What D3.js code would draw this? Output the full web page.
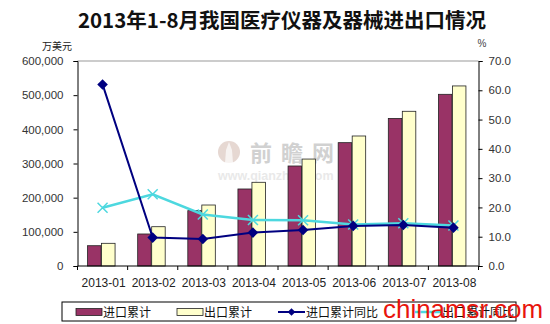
<!DOCTYPE html>
<html>
<head>
<meta charset="utf-8">
<script src="https://cdn.jsdelivr.net/npm/d3@7"></script>
<style>
  html, body { margin: 0; padding: 0; background: #fff; }
  svg { display: block; }
  text { font-family: "Liberation Sans", Arial, "Noto Sans CJK SC", sans-serif; }
  .cjk { font-family: "Noto Sans CJK SC", "Liberation Sans", sans-serif; }
</style>
</head>
<body>
<svg id="chart" width="550" height="324"></svg>
<script>
// Monthly cumulative medical instrument & device trade, Jan–Aug 2013
const months = ["2013-01", "2013-02", "2013-03", "2013-04", "2013-05", "2013-06", "2013-07", "2013-08"];
const importCum = [59400, 93700, 162000, 225400, 292700, 361000, 432000, 502500];   // 万美元
const exportCum = [66400, 115000, 178500, 245000, 313000, 380500, 452800, 527000];  // 万美元
const importYoY = [62.0, 9.7, 9.2, 11.4, 12.3, 13.7, 14.0, 13.1];                   // %
const exportYoY = [19.9, 24.5, 17.6, 15.7, 15.6, 14.2, 14.6, 13.8];                 // %
const leftTicks = [0, 100000, 200000, 300000, 400000, 500000, 600000];
const rightTicks = [0, 10, 20, 30, 40, 50, 60, 70];
const seriesNames = ["进口累计", "出口累计", "进口累计同比", "出口累计同比"];

const colors = { imp: "#993366", exp: "#FFFFCC", impLine: "#000080", expLine: "#4DD8DF" };

const svg = d3.select("#chart");
const plot = { left: 77.5, right: 478.5, top: 61, bottom: 266 };

const x = d3.scaleBand().domain(months).range([plot.left, plot.right]).padding(0);
const yL = d3.scaleLinear().domain([0, 600000]).range([plot.bottom, plot.top]);
const yR = d3.scaleLinear().domain([0, 70]).range([plot.bottom, plot.top]);
const cx = m => x(m) + x.bandwidth() / 2;

// Title
svg.append("text").attr("class", "cjk")
  .attr("x", 282).attr("y", 28).attr("text-anchor", "middle")
  .attr("font-size", 20.5).attr("font-weight", "bold").attr("fill", "#111")
  .text("2013年1-8月我国医疗仪器及器械进出口情况");

// Unit labels
svg.append("text").attr("class", "cjk").attr("x", 57).attr("y", 50)
  .attr("text-anchor", "middle").attr("font-size", 10).attr("fill", "#222").text("万美元");
svg.append("text").attr("x", 482).attr("y", 47)
  .attr("text-anchor", "middle").attr("font-size", 10).attr("fill", "#444").text("%");

// Top border of the plot area
svg.append("line").attr("x1", plot.left).attr("x2", plot.right)
  .attr("y1", plot.top).attr("y2", plot.top).attr("stroke", "#999").attr("stroke-width", 1);

// Watermark in the plot background
const wm = svg.append("g").attr("opacity", 0.45);
wm.append("circle").attr("cx", 229).attr("cy", 152).attr("r", 11).attr("fill", "#c9a99d");
wm.append("path").attr("d", "M229,142 L232,150 L233,163 L225,163 L226,150 Z").attr("fill", "#fff").attr("opacity", 0.7);
wm.append("text").attr("class", "cjk").attr("x", 250).attr("y", 161)
  .attr("font-size", 22).attr("font-weight", "bold").attr("fill", "#9a9a9a")
  .attr("letter-spacing", 9).text("前瞻网");
wm.append("text").attr("x", 218).attr("y", 180)
  .attr("font-size", 12.5).attr("fill", "#cfcfcf").attr("font-weight", "bold").text("www.qianzhan.com");

// Left axis
const axL = svg.append("g").attr("transform", `translate(${plot.left},0)`)
  .call(d3.axisLeft(yL).tickValues(leftTicks).tickSize(4).tickPadding(10)
    .tickFormat(d3.format(",")));
axL.selectAll("text").attr("font-size", 11.5).attr("fill", "#333")
  .attr("font-family", "Liberation Sans, Arial, sans-serif");
axL.select(".domain").attr("stroke", "#000");
axL.selectAll(".tick line").attr("stroke", "#000");

// Right axis
const axR = svg.append("g").attr("transform", `translate(${plot.right},0)`)
  .call(d3.axisRight(yR).tickValues(rightTicks).tickSize(4).tickPadding(6)
    .tickFormat(d3.format(".1f")));
axR.selectAll("text").attr("font-size", 11.5).attr("fill", "#333")
  .attr("font-family", "Liberation Sans, Arial, sans-serif");
axR.select(".domain").attr("stroke", "#000");
axR.selectAll(".tick line").attr("stroke", "#000");

// Bars
const bw = 13.5;
svg.append("g").selectAll("rect").data(months).join("rect")
  .attr("x", (d) => cx(d) - 15).attr("width", bw)
  .attr("y", (d, i) => yL(importCum[i])).attr("height", (d, i) => yL(0) - yL(importCum[i]))
  .attr("fill", colors.imp).attr("stroke", "#222").attr("stroke-width", 0.8);
svg.append("g").selectAll("rect").data(months).join("rect")
  .attr("x", (d) => cx(d) - 1).attr("width", bw)
  .attr("y", (d, i) => yL(exportCum[i])).attr("height", (d, i) => yL(0) - yL(exportCum[i]))
  .attr("fill", colors.exp).attr("stroke", "#222").attr("stroke-width", 0.8);

// Bottom axis with ticks between categories
const axB = svg.append("g").attr("transform", `translate(0,${plot.bottom})`);
axB.append("line").attr("x1", plot.left).attr("x2", plot.right).attr("stroke", "#000");
axB.selectAll("line.tk").data(d3.range(months.length + 1)).join("line").attr("class", "tk")
  .attr("x1", i => plot.left + i * x.bandwidth()).attr("x2", i => plot.left + i * x.bandwidth())
  .attr("y1", 0).attr("y2", 4).attr("stroke", "#000");
axB.selectAll("text").data(months).join("text")
  .attr("x", d => cx(d) + 1).attr("y", 21).attr("text-anchor", "middle")
  .attr("font-size", 12).attr("fill", "#222").text(d => d);

// Line series
const lineGen = d3.line().x((d, i) => cx(months[i])).y(d => yR(d));
svg.append("path").datum(exportYoY).attr("d", lineGen)
  .attr("fill", "none").attr("stroke", colors.expLine).attr("stroke-width", 2.5);
svg.append("path").datum(importYoY).attr("d", lineGen)
  .attr("fill", "none").attr("stroke", colors.impLine).attr("stroke-width", 2);

// Export YoY markers: x crosses
svg.append("g").selectAll("path").data(exportYoY).join("path")
  .attr("d", (d, i) => {
    const px = cx(months[i]), py = yR(d), s = 5;
    return `M${px - s},${py - s}L${px + s},${py + s}M${px - s},${py + s}L${px + s},${py - s}`;
  })
  .attr("stroke", colors.expLine).attr("stroke-width", 1.5).attr("fill", "none");

// Import YoY markers: diamonds
svg.append("g").selectAll("path").data(importYoY).join("path")
  .attr("transform", (d, i) => `translate(${cx(months[i])},${yR(d)}) rotate(45)`)
  .attr("d", d3.symbol().type(d3.symbolSquare).size(56))
  .attr("fill", colors.impLine);

// Legend
const lg = svg.append("g");
lg.append("rect").attr("x", 62).attr("y", 302).attr("width", 454).attr("height", 19)
  .attr("fill", "#fff").attr("stroke", "#000").attr("stroke-width", 1);
const ly = 312;
lg.append("rect").attr("x", 76).attr("y", ly - 3.5).attr("width", 26).attr("height", 7)
  .attr("fill", colors.imp).attr("stroke", "#222").attr("stroke-width", 0.8);
lg.append("rect").attr("x", 177).attr("y", ly - 3.5).attr("width", 26).attr("height", 7)
  .attr("fill", colors.exp).attr("stroke", "#222").attr("stroke-width", 0.8);
lg.append("line").attr("x1", 278).attr("x2", 305).attr("y1", ly).attr("y2", ly)
  .attr("stroke", colors.impLine).attr("stroke-width", 2);
lg.append("path").attr("transform", `translate(291.5,${ly}) rotate(45)`)
  .attr("d", d3.symbol().type(d3.symbolSquare).size(30)).attr("fill", colors.impLine);
lg.append("line").attr("x1", 415).attr("x2", 441).attr("y1", ly).attr("y2", ly)
  .attr("stroke", colors.expLine).attr("stroke-width", 2.5);
const legendText = [[103, 0], [204, 1], [306, 2], [442, 3]];
lg.selectAll("text.lt").data(legendText).join("text").attr("class", "lt cjk")
  .attr("x", d => d[0]).attr("y", ly + 4.5).attr("font-size", 12).attr("fill", "#111")
  .text(d => seriesNames[d[1]]);

// Site mark across the legend
svg.append("text").attr("x", 383).attr("y", 318)
  .attr("font-size", 25).attr("fill", "#e8140c").attr("font-family", "DejaVu Sans, sans-serif")
  .attr("textLength", 160).attr("lengthAdjust", "spacingAndGlyphs")
  .text("chinamsr.com");
</script>
</body>
</html>
